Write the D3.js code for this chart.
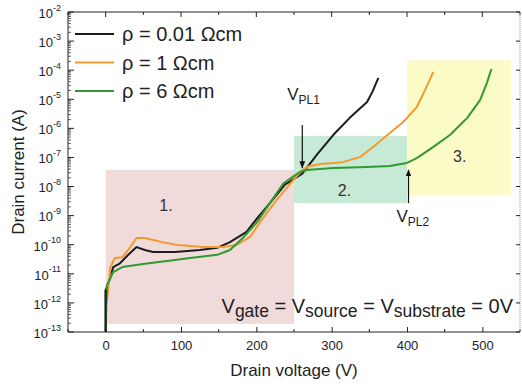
<!DOCTYPE html>
<html>
<head>
<meta charset="utf-8">
<script src="https://cdn.jsdelivr.net/npm/d3@7"></script>
<style>
  body { margin: 0; background: #fff; }
  svg { display: block; font-family: "Liberation Sans", Arial, sans-serif; }
</style>
</head>
<body>
<div id="chart"></div>
<script>
// curve data: drain voltage (V) vs drain current (A)
const blackV = [0, 0, 6, 10, 19, 30, 41, 52, 63, 92, 125, 148, 165, 187, 197, 218, 238, 261, 281, 302, 324, 347, 354, 362];
const blackI = [1e-13, 2.75e-12, 7.2e-12, 1.7e-11, 2.3e-11, 4.5e-11, 8.3e-11, 6.6e-11, 5.6e-11, 5.6e-11, 6.6e-11, 7.8e-11, 1.23e-10, 2.75e-10, 6.0e-10, 2.7e-9, 1.17e-8, 2.8e-8, 1.3e-7, 5.9e-7, 2.3e-6, 8.1e-6, 1.8e-5, 5.4e-5];

const orangeV = [1, 3, 6, 12, 22, 30, 41, 52, 75, 95, 129, 155, 174, 192, 205, 227, 249, 260, 270, 285, 315, 338, 355, 374, 395, 413, 424, 435];
const orangeI = [1e-12, 2.3e-12, 1.6e-11, 3.5e-11, 3.7e-11, 6.6e-11, 1.7e-10, 1.7e-10, 1.23e-10, 9.8e-11, 8.3e-11, 8.3e-11, 9.8e-11, 1.9e-10, 6.0e-10, 3.5e-9, 1.66e-8, 3.5e-8, 5.0e-8, 6.0e-8, 6.9e-8, 1.05e-7, 2.3e-7, 5.9e-7, 1.66e-6, 5.4e-6, 2.1e-5, 8.7e-5];

const greenV = [0, 1, 2, 10, 22, 52, 92, 112, 148, 165, 182, 201, 218, 236, 258, 267, 302, 347, 377, 400, 413, 435, 457, 480, 497, 506, 512];
const greenI = [1e-13, 1.07e-12, 4.2e-12, 1.15e-11, 1.7e-11, 2.2e-11, 3.0e-11, 3.5e-11, 4.5e-11, 6.6e-11, 1.7e-10, 6.0e-10, 2.7e-9, 1.3e-8, 3.2e-8, 3.7e-8, 4.3e-8, 4.7e-8, 5.1e-8, 6.5e-8, 9.5e-8, 2.3e-7, 5.9e-7, 2.3e-6, 9.3e-6, 3.6e-5, 1.1e-4];

const seriesNames = ["ρ = 0.01 Ωcm", "ρ = 1 Ωcm", "ρ = 6 Ωcm"];
const seriesColors = ["#1c1c1c", "#f39a2e", "#2f9a32"];

const xTicks = [0, 100, 200, 300, 400, 500];
const xMinor = [-50, 50, 150, 250, 350, 450, 550];
const yExps = [-13, -12, -11, -10, -9, -8, -7, -6, -5, -4, -3, -2];

// shaded regions
const regionV0 = [0, 250, 400];
const regionV1 = [250, 400, 538];
const regionIlo = [1.9e-13, 2.7e-9, 5.0e-9];
const regionIhi = [3.7e-8, 5.5e-7, 2.2e-4];
const regionFill = ["#f1dada", "#c7ead6", "#fbfbc8"];
const regionLabels = ["1.", "2.", "3."];
const regionLabelV = [80, 317, 470];
const regionLabelI = [2.3e-9, 7.6e-9, 1.05e-7];

const width = 522, height = 386;
const margin = {left: 68, right: 2, top: 12, bottom: 54};

const x = d3.scaleLinear().domain([-50, 550]).range([margin.left, width - margin.right]);
const y = d3.scaleLog().domain([1e-13, 1e-2]).range([height - margin.bottom, margin.top]);

const svg = d3.select("#chart").append("svg")
    .attr("width", width)
    .attr("height", height);

svg.append("defs").append("marker")
    .attr("id", "arr")
    .attr("viewBox", "0 0 10 10")
    .attr("refX", 9).attr("refY", 5)
    .attr("markerWidth", 6).attr("markerHeight", 6)
    .attr("orient", "auto-start-reverse")
    .append("path").attr("d", "M0,1 L10,5 L0,9 z").attr("fill", "#111");

// regions
svg.append("g").selectAll("rect")
    .data(regionV0)
    .join("rect")
    .attr("x", (d, i) => x(d))
    .attr("width", (d, i) => x(regionV1[i]) - x(d))
    .attr("y", (d, i) => y(regionIhi[i]))
    .attr("height", (d, i) => y(regionIlo[i]) - y(regionIhi[i]))
    .attr("fill", (d, i) => regionFill[i]);

svg.append("g").selectAll("text")
    .data(regionLabels)
    .join("text")
    .attr("x", (d, i) => x(regionLabelV[i]))
    .attr("y", (d, i) => y(regionLabelI[i]))
    .attr("text-anchor", "middle")
    .attr("dy", "0.35em")
    .attr("font-size", 16)
    .attr("fill", "#333")
    .text(d => d);

// axes frame
const x0 = margin.left, x1 = width - margin.right, y0 = height - margin.bottom, y1 = margin.top;
const axisColor = "#222";

const gx = svg.append("g").attr("transform", `translate(0,${y0})`)
    .call(d3.axisBottom(x).tickValues(xTicks).tickSize(-5).tickPadding(9).tickFormat(d3.format("d")));
gx.select(".domain").attr("stroke", axisColor).attr("d", `M${x0},0H${x1}`);
gx.selectAll("text").attr("font-size", 13).attr("fill", "#222").attr("font-family", null);
gx.selectAll("line").attr("stroke", axisColor);
svg.append("g").selectAll("line").data(xMinor).join("line")
    .attr("x1", d => x(d)).attr("x2", d => x(d))
    .attr("y1", y0).attr("y2", y0 - 3).attr("stroke", axisColor);

// top
svg.append("line").attr("x1", x0).attr("x2", x1).attr("y1", y1).attr("y2", y1).attr("stroke", axisColor);
svg.append("g").selectAll("line").data(xTicks.concat(xMinor)).join("line")
    .attr("x1", d => x(d)).attr("x2", d => x(d))
    .attr("y1", y1).attr("y2", d => y1 + (xTicks.includes(d) ? 5 : 3)).attr("stroke", axisColor);

// left
svg.append("line").attr("x1", x0).attr("x2", x0).attr("y1", y0).attr("y2", y1).attr("stroke", axisColor);
const minorY = y.ticks(200).filter(d => {
  const e = Math.log10(d);
  return Math.abs(e - Math.round(e)) > 1e-6;
});
svg.append("g").selectAll("line").data(minorY).join("line")
    .attr("x1", x0).attr("x2", x0 + 3)
    .attr("y1", d => y(d)).attr("y2", d => y(d)).attr("stroke", axisColor).attr("stroke-width", 0.7);
svg.append("g").selectAll("line").data(yExps).join("line")
    .attr("x1", x0).attr("x2", x0 + 6)
    .attr("y1", d => y(Math.pow(10, d))).attr("y2", d => y(Math.pow(10, d))).attr("stroke", axisColor);

const yl = svg.append("g").selectAll("text").data(yExps).join("text")
    .attr("x", x0 - 7)
    .attr("y", d => y(Math.pow(10, d)))
    .attr("dy", "0.45em")
    .attr("text-anchor", "end")
    .attr("font-size", 13)
    .attr("fill", "#222");
yl.append("tspan").text("10");
yl.append("tspan").attr("font-size", 9).attr("dy", "-0.8em").text(d => "-" + Math.abs(d));

// right
svg.append("line").attr("x1", x1).attr("x2", x1).attr("y1", y0).attr("y2", y1)
    .attr("stroke", "#999").attr("stroke-dasharray", "1,1");
svg.append("g").selectAll("line").data(yExps).join("line")
    .attr("x1", x1).attr("x2", x1 - 4)
    .attr("y1", d => y(Math.pow(10, d))).attr("y2", d => y(Math.pow(10, d))).attr("stroke", axisColor);

// axis titles
svg.append("text")
    .attr("x", (x0 + x1) / 2).attr("y", 376)
    .attr("text-anchor", "middle").attr("font-size", 17).attr("fill", "#222")
    .text("Drain voltage (V)");
svg.append("text")
    .attr("transform", `translate(24,${(y0 + y1) / 2}) rotate(-90)`)
    .attr("text-anchor", "middle").attr("font-size", 17).attr("fill", "#222")
    .text("Drain current (A)");

// curves
const line = d3.line().x(d => x(d[0])).y(d => y(d[1]));
const curves = [
  d3.zip(blackV, blackI),
  d3.zip(orangeV, orangeI),
  d3.zip(greenV, greenI)
];
svg.append("g").selectAll("path")
    .data(curves)
    .join("path")
    .attr("fill", "none")
    .attr("stroke", (d, i) => seriesColors[i])
    .attr("stroke-width", 2)
    .attr("stroke-linejoin", "round")
    .attr("d", line);
// black vertical start sits on top
svg.append("path").attr("fill", "none").attr("stroke", seriesColors[0]).attr("stroke-width", 2)
    .attr("d", line(d3.zip(blackV.slice(0, 2), blackI.slice(0, 2))));

// legend
const legend = svg.append("g").selectAll("g")
    .data(seriesNames)
    .join("g")
    .attr("transform", (d, i) => `translate(75,${34 + i * 28.5})`);
legend.append("line").attr("x1", 0).attr("x2", 39)
    .attr("stroke", (d, i) => seriesColors[i]).attr("stroke-width", 2);
legend.append("text").attr("x", 47).attr("dy", "0.35em")
    .attr("font-size", 20).attr("fill", "#222").text(d => d);

// pinch-off annotations
const vpl1V = 261, vpl2V = 402;
svg.append("line")
    .attr("x1", x(vpl1V)).attr("x2", x(vpl1V))
    .attr("y1", y(1.3e-6)).attr("y2", y(4.4e-8))
    .attr("stroke", "#111").attr("stroke-width", 1.2).attr("marker-end", "url(#arr)");
svg.append("line")
    .attr("x1", x(vpl2V)).attr("x2", x(vpl2V))
    .attr("y1", y(2.7e-9)).attr("y2", y(3.7e-8))
    .attr("stroke", "#111").attr("stroke-width", 1.2).attr("marker-end", "url(#arr)");

function subLabel(vx, iy, main, sub, size, subSize, anchor) {
  const t = svg.append("text")
      .attr("x", vx).attr("y", iy)
      .attr("text-anchor", anchor)
      .attr("font-size", size).attr("fill", "#222");
  t.append("tspan").text(main);
  t.append("tspan").attr("font-size", subSize).attr("dy", size * 0.22).text(sub);
  return t;
}
subLabel(x(241), y(9.3e-6), "V", "PL1", 17, 12, "start");
subLabel(x(386), y(6e-10), "V", "PL2", 17, 12, "start");

// bias condition text
const bias = svg.append("text")
    .attr("x", 513).attr("y", 313)
    .attr("text-anchor", "end")
    .attr("font-size", 20).attr("fill", "#222");
const parts = [["V", false], ["gate", true], [" = V", false], ["source", true], [" = V", false], ["substrate", true], [" = 0V", false]];
parts.forEach(p => {
  bias.append("tspan")
      .attr("font-size", p[1] ? 17.5 : 20)
      .attr("baseline-shift", p[1] ? "-4" : null)
      .text(p[0]);
});
</script>
</body>
</html>
